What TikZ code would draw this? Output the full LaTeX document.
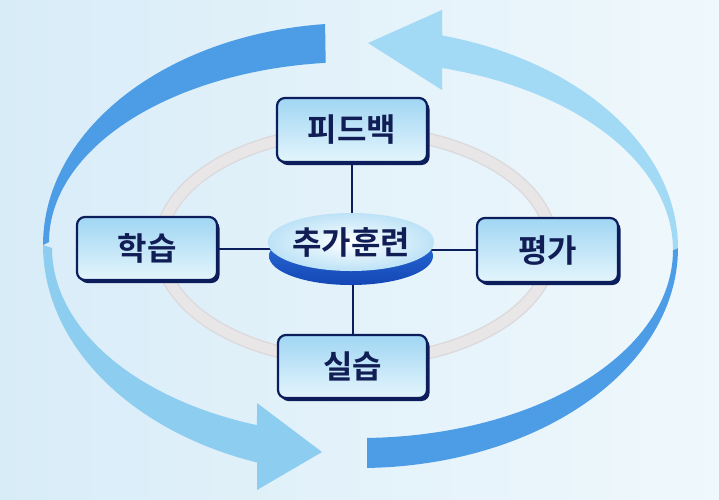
\documentclass[tikz,border=0pt]{standalone}
\usepackage{fontspec}
\newfontfamily\kr{Noto Sans CJK KR}[BoldFont={Noto Sans CJK KR Bold}]
\usetikzlibrary{shapes.geometric,shadows}
\definecolor{bgleft}{HTML}{D8ECF8}
\definecolor{bgright}{HTML}{EFF8FC}
\definecolor{arrdark}{HTML}{4D9DE6}
\definecolor{arrlightA}{HTML}{8CCDF0}
\definecolor{arrlightB}{HTML}{A2DAF5}
\definecolor{navy}{HTML}{0C1D5C}
\definecolor{txtnavy}{HTML}{111D55}
\definecolor{boxtop}{HTML}{A0D6F3}
\definecolor{boxbot}{HTML}{E4F5FC}
\definecolor{ringout}{HTML}{DCDADC}
\definecolor{ringin}{HTML}{E8E6E6}
\definecolor{disktop}{HTML}{2F78E0}
\definecolor{diskbot}{HTML}{1446B5}
\pgfdeclarelayer{bg}
\pgfdeclarelayer{mid}
\pgfsetlayers{bg,mid,main}
\tikzset{
  stagebox/.style={draw=navy, line width=2.2pt, rounded corners=8pt,
    top color=boxtop, bottom color=boxbot, text=txtnavy,
    font=\kr\bfseries\fontsize{32}{38}\selectfont,
    drop shadow={shadow xshift=2.5pt, shadow yshift=-3pt, fill=navy, opacity=1}},
  link/.style={draw=navy, line width=2pt},
}
\begin{document}
\begin{tikzpicture}[x=1pt,y=-1pt]
\useasboundingbox (0,0) rectangle (719,499);
\begin{pgfonlayer}{bg}
\shade[left color=bgleft, right color=bgright] (0,0) rectangle (719,499);
% left arrow, upper part
\fill[arrdark] plot[domain=264.5:180, samples=60, variable=\t] ({355+312*cos(\t)},{245+222*sin(\t)})
  -- plot[domain=180:264.5, samples=60, variable=\t] ({355+306*cos(\t)},{242+180*sin(\t)}) -- cycle;
% left arrow, lower part with head
\fill[arrlightA] plot[domain=180:108.96, samples=60, variable=\t] ({360+317*cos(\t)},{245+230*sin(\t)})
  -- (257,490) -- (322,452) -- (257,403)
  -- plot[domain=109.54:180, samples=60, variable=\t] ({360+308*cos(\t)},{248+188*sin(\t)}) -- cycle;
% right arrow, lower part
\fill[arrdark] plot[domain=88.7:0, samples=60, variable=\t] ({360+318*cos(\t)},{248+220*sin(\t)})
  -- plot[domain=0:88.7, samples=60, variable=\t] ({360+313*cos(\t)},{250+188*sin(\t)}) -- cycle;
% right arrow, upper part with head
\fill[arrlightB] plot[domain=0:-75, samples=60, variable=\t] ({360+318*cos(\t)},{248+220*sin(\t)})
  -- (442,10) -- (368,43) -- (442,90)
  -- plot[domain=-74.81:0, samples=60, variable=\t] ({360+313*cos(\t)},{250+188.6*sin(\t)}) -- cycle;
% ring
\draw[ringout, line width=13pt] (356,246) ellipse [x radius=196pt, y radius=115pt];
\draw[ringin, line width=10pt] (356,246) ellipse [x radius=196pt, y radius=115pt];
\end{pgfonlayer}
% center disk
\node[ellipse, minimum width=164pt, minimum height=58pt, top color=disktop, bottom color=diskbot, inner sep=0pt] (disk) at (351,256) {};
\node[ellipse, minimum width=166pt, minimum height=58pt, inner color=white, outer color=boxtop!70!white, inner sep=0pt,
  text=txtnavy, font=\kr\bfseries\fontsize{32}{38}\selectfont] (ctr) at (351,242) {추가훈련};
% stage boxes
\node[stagebox, minimum width=150pt, minimum height=64pt] (fb) at (352,130) {피드백};
\node[stagebox, minimum width=140pt, minimum height=63pt] (hak) at (147,248.5) {학습};
\node[stagebox, minimum width=141pt, minimum height=64pt] (pyeong) at (547.5,250) {평가};
\node[stagebox, minimum width=149pt, minimum height=63pt] (sil) at (352.5,366.5) {실습};
\begin{pgfonlayer}{mid}
\draw[link] (fb.south) -- (fb.south |- ctr.center);
\draw[link] (hak.east) -- (hak.east -| ctr.center);
\draw[link] (pyeong.west) -- (pyeong.west -| ctr.center);
\draw[link] (sil.north) -- (sil.north |- disk.center);
\end{pgfonlayer}
\end{tikzpicture}
\end{document}
